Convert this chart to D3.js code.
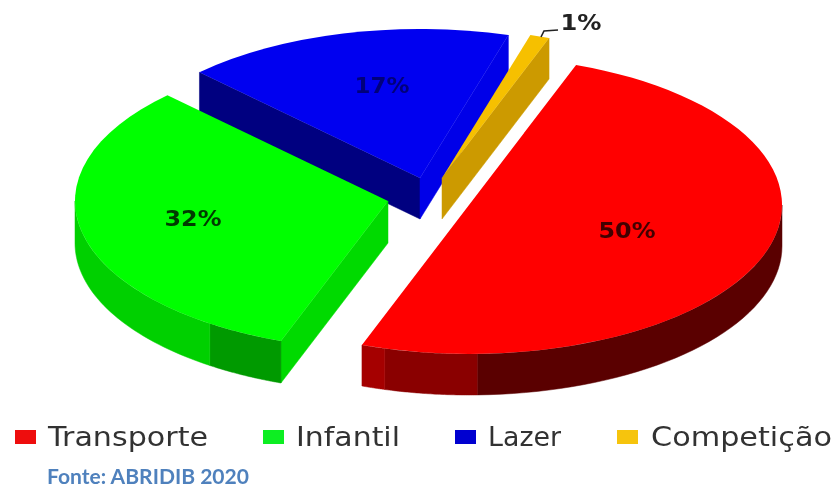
<!DOCTYPE html>
<html>
<head>
<meta charset="utf-8">
<style>html,body{margin:0;padding:0;background:#fff}svg{display:block}</style>
<script src="https://cdn.jsdelivr.net/npm/d3@7/dist/d3.min.js"></script>
</head>
<body>
<svg id="chart" width="833" height="488"></svg>
<script>
// ---- data ----
const categories = ["Transporte", "Infantil", "Lazer", "Competição"];
const shares = [50, 32, 17, 1];
const shareLabels = ["50%", "32%", "17%", "1%"];

// ---- styling and layout ----
const topColors = ["#ff0000", "#00ff00", "#0000f0", "#f6c000"];
const legendColors = ["#ee1111", "#11ee22", "#0000d0", "#f6c40a"];
const startDeg = 20, rx = 313, ry = 149;
const depths = [41, 42, 41, 41];
const centers = [[469, 205], [388, 201], [420, 178], [442, 178]];
// outer wall segments: [from deg, to deg, colour] per slice
const outerShades = [
  [[90, 178.5, "#5a0000"], [178.5, 195.6, "#8a0000"], [195.6, 200, "#a50000"]],
  [[200, 214.7, "#009a00"], [214.7, 270, "#00d000"]],
  [], []
];
// radial walls: [which end, colour] per slice
const radialShades = [
  [],
  [["start", "#00da00"]],
  [["start", "#000080"], ["end", "#0000e8"]],
  [["end", "#cc9a04"]]
];
const labelPos = [[627, 238, 57], [193, 226, 57], [382, 93, 55], [581, 30, 41]];
const labelColors = ["#420000", "#063a06", "#00007a", "#222222"];
const legendX = [[15, 48, 160], [263, 296, 104], [455, 488, 73], [617, 651, 181]];

const svg = d3.select("#chart");
const defs = svg.append("defs");
defs.append("filter").attr("id", "soft").attr("x", "-5%").attr("y", "-5%").attr("width", "110%").attr("height", "110%")
  .append("feGaussianBlur").attr("stdDeviation", 0.6);
const soft = svg.append("g").attr("filter", "url(#soft)");

const pie = d3.pie().sort(null).value(d => d)
  .startAngle(startDeg * Math.PI / 180)
  .endAngle((startDeg + 360) * Math.PI / 180);
const arcs = pie(shares);
const ratio = ry / rx;
const arc = d3.arc().innerRadius(0).outerRadius(rx);
const line = d3.line();
const rad = d => d * Math.PI / 180;
const pt = (c, a, dy = 0) => [c[0] + rx * Math.sin(a), c[1] - ry * Math.cos(a) + dy];

// blue, yellow, then green, red: painter's order of the reference
[2, 3, 1, 0].forEach(i => {
  const c = centers[i], d = arcs[i], h = depths[i];
  const g = soft.append("g");
  radialShades[i].forEach(([end, col]) => {
    const a = end === "start" ? d.startAngle : d.endAngle;
    g.append("path")
      .attr("d", line([c, pt(c, a), pt(c, a, h), [c[0], c[1] + h]]) + "Z")
      .attr("fill", col).attr("stroke", col).attr("stroke-width", 0.5);
  });
  outerShades[i].forEach(([a0, a1, col]) => {
    const steps = d3.range(0, 41).map(k => rad(a0) + (rad(a1) - rad(a0)) * k / 40);
    const pts = steps.map(a => pt(c, a)).concat(steps.slice().reverse().map(a => pt(c, a, h)));
    g.append("path").attr("d", line(pts) + "Z")
      .attr("fill", col).attr("stroke", col).attr("stroke-width", 0.5);
  });
  g.append("path")
    .attr("d", arc(d))
    .attr("transform", `translate(${c[0]},${c[1]}) scale(1,${ratio})`)
    .attr("fill", topColors[i]);
});

// leader of the 1% label
soft.append("path")
  .attr("d", line([[541, 37], [544, 31], [558, 30]]))
  .attr("fill", "none").attr("stroke", "#222").attr("stroke-width", 1.6);

// slice labels
shareLabels.forEach((t, i) => {
  soft.append("text")
    .attr("x", labelPos[i][0]).attr("y", labelPos[i][1])
    .attr("text-anchor", "middle")
    .attr("textLength", labelPos[i][2]).attr("lengthAdjust", "spacingAndGlyphs")
    .attr("font-family", "'DejaVu Sans'").attr("font-weight", "bold").attr("font-size", 22)
    .attr("fill", labelColors[i]).text(t);
});

// legend
categories.forEach((t, i) => {
  const [sx, tx, tw] = legendX[i];
  soft.append("rect").attr("x", sx).attr("y", 430).attr("width", 21).attr("height", 14)
    .attr("fill", legendColors[i]);
  soft.append("text").attr("x", tx).attr("y", 446)
    .attr("textLength", tw).attr("lengthAdjust", "spacingAndGlyphs")
    .attr("font-family", "'DejaVu Sans'").attr("font-size", 26)
    .attr("fill", "#333").text(t);
});

soft.append("text").attr("x", 47).attr("y", 484)
  .attr("textLength", 202).attr("lengthAdjust", "spacingAndGlyphs")
  .attr("font-family", "Lato").attr("font-weight", "bold").attr("font-size", 20)
  .attr("fill", "#4f81bd").text("Fonte: ABRIDIB 2020");
</script>
</body>
</html>
